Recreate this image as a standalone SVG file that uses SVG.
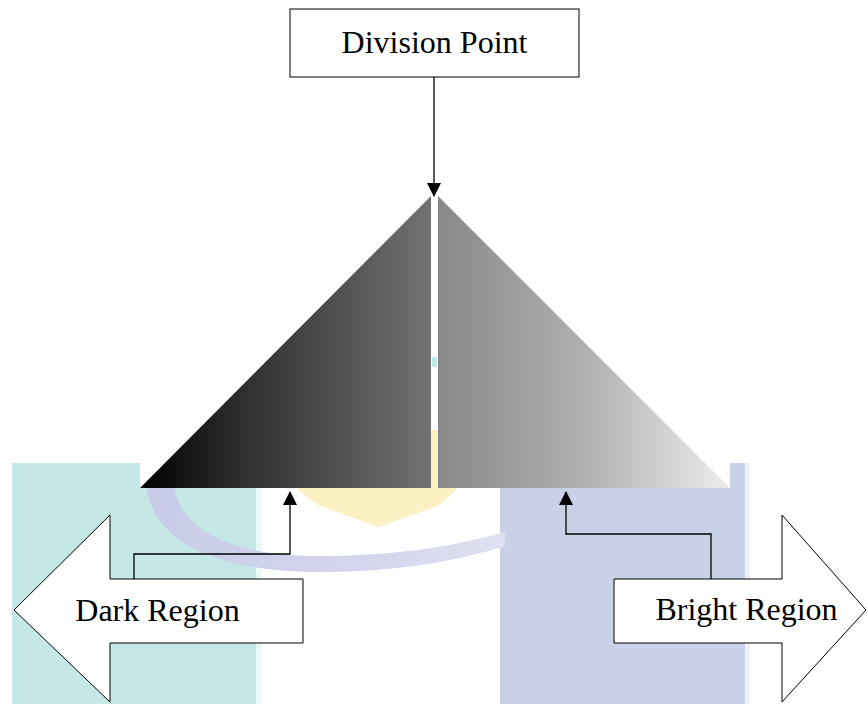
<svg xmlns="http://www.w3.org/2000/svg" width="868" height="704" viewBox="0 0 868 704">
<style>
.box{fill:#fff;stroke:#000;stroke-width:1}
.conn{fill:none;stroke:#000;stroke-width:1.3}
</style>
<defs>
<marker id="ah" markerWidth="14" markerHeight="15" refX="13" refY="7" orient="auto" markerUnits="userSpaceOnUse">
<path d="M0,0 L14,7 L0,14 Z" fill="#000"/>
</marker>
<linearGradient id="gl" x1="0" y1="0" x2="1" y2="0">
<stop offset="0" stop-color="#000"/>
<stop offset="0.35" stop-color="#2e2e2e"/>
<stop offset="1" stop-color="#727272"/>
</linearGradient>
<linearGradient id="gr" x1="0" y1="0" x2="1" y2="0">
<stop offset="0" stop-color="#888"/>
<stop offset="0.5" stop-color="#b0b0b0"/>
<stop offset="1" stop-color="#ececec"/>
</linearGradient>
<linearGradient id="ga" x1="0" y1="0" x2="1" y2="0">
<stop offset="0" stop-color="#c7cbe7"/>
<stop offset="0.6" stop-color="#d3d6ec"/>
<stop offset="1" stop-color="#dfe1f1"/>
</linearGradient>
</defs>
<rect width="868" height="704" fill="#fff"/>
<g id="watermark">
<rect x="12" y="463" width="244" height="241" fill="#c5e8e7"/>
<rect x="256" y="463" width="6" height="241" fill="#eef8f8"/>
<rect x="500" y="463" width="245" height="241" fill="#c9d1e6"/>
<rect x="745" y="463" width="5" height="241" fill="#eef1f8"/>
<polygon points="298,430 456,430 456,490 440,505 378,527 318,505 298,490" fill="#fbf1c2"/>
<path d="M146,478 C146,540 215,572 320,572 C400,572 460,560 505,546 L505,532 C452,547 392,556 320,556 C232,556 174,530 174,478 Z" fill="url(#ga)"/>
<rect x="432" y="357" width="5" height="10" fill="#c5e8e7"/>
</g>
<g id="triangle">
<rect x="140" y="196" width="291" height="292" fill="#fff"/>
<rect x="438" y="196" width="292" height="292" fill="#fff"/>
<polygon points="140,488 431,196 431,488" fill="url(#gl)"/>
<polygon points="438,196 730,488 438,488" fill="url(#gr)"/>
</g>
<g id="division-point">
<rect class="box" x="290" y="9" width="289" height="68"/>
<text x="434.5" y="53" font-family="Liberation Serif" font-size="32" text-anchor="middle">Division Point</text>
</g>
<g id="dark-region">
<polygon class="box" points="14,610 110,515 110,579 303,579 303,643 110,643 110,702"/>
<text x="157.5" y="621" font-family="Liberation Serif" font-size="32" text-anchor="middle">Dark Region</text>
</g>
<g id="bright-region">
<polygon class="box" points="614,579 782,579 782,515 866,610 782,702 782,643 614,643"/>
<text x="746.5" y="620" font-family="Liberation Serif" font-size="32" text-anchor="middle">Bright Region</text>
</g>
<g id="connectors">
<path class="conn" d="M434,77 L434,196" marker-end="url(#ah)"/>
<path class="conn" d="M134,579 L134,554 L290,554 L290,492" marker-end="url(#ah)"/>
<path class="conn" d="M711,579 L711,534 L566,534 L566,492" marker-end="url(#ah)"/>
</g>
</svg>
